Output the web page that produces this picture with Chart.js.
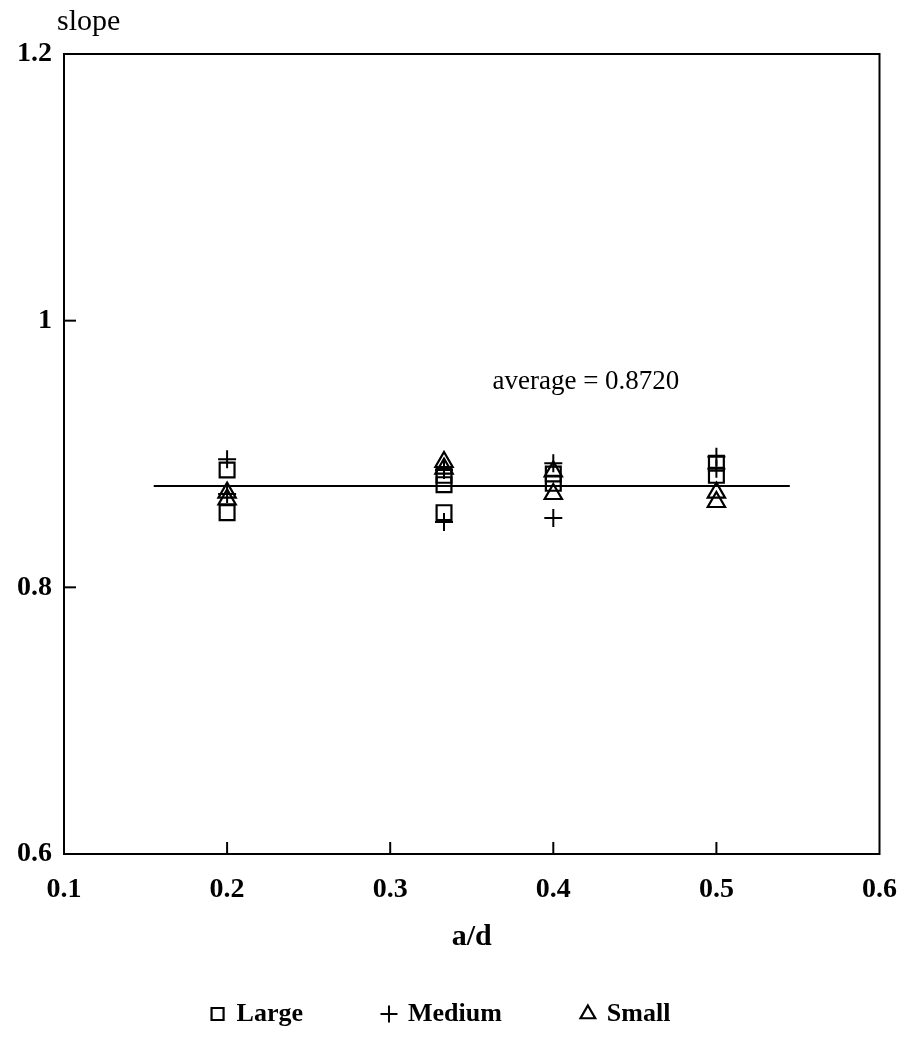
<!DOCTYPE html>
<html>
<head>
<meta charset="utf-8">
<script src="https://cdn.jsdelivr.net/npm/chart.js@4.4.0/dist/chart.umd.min.js"></script>
<style>
  html, body { margin: 0; padding: 0; background: #fff; }
  #wrap { width: 916px; height: 1061px; }
</style>
</head>
<body>
<div id="wrap"><canvas id="chart" width="916" height="1061"></canvas></div>
<script>
// a/d columns and slope readings per size group
const largeX  = [0.2, 0.2, 0.333, 0.333, 0.333, 0.4, 0.4, 0.5, 0.5];
const largeY  = [0.888, 0.856, 0.884, 0.877, 0.856, 0.885, 0.878, 0.893, 0.884];
const mediumX = [0.2, 0.2, 0.333, 0.333, 0.4, 0.4, 0.5, 0.5];
const mediumY = [0.896, 0.870, 0.888, 0.849, 0.893, 0.852, 0.898, 0.889];
const smallX  = [0.2, 0.2, 0.333, 0.333, 0.4, 0.4, 0.5, 0.5];
const smallY  = [0.871, 0.866, 0.894, 0.889, 0.887, 0.870, 0.871, 0.864];

// fitted average line
const avgValue = 0.876;
const avgLabel = 'average = 0.8720';
const avgSpan = [0.155, 0.545];

// axes
const xTicks = [0.1, 0.2, 0.3, 0.4, 0.5, 0.6];
const yTicks = [0.6, 0.8, 1.0, 1.2];
const xMarks = [0.2, 0.3, 0.4, 0.5];   // small inward tick marks on the frame
const yMarks = [0.8, 1.0];

const pts = (xs, ys) => xs.map((x, i) => ({ x: x, y: ys[i] }));

const serif = '"Liberation Serif", "DejaVu Serif", serif';

const framePlugin = {
    id: 'frame',
    afterDraw(chart) {
        const { ctx, chartArea: a, scales } = chart;
        ctx.save();
        ctx.strokeStyle = '#000';
        ctx.lineWidth = 2;
        ctx.strokeRect(a.left, a.top, a.right - a.left, a.bottom - a.top);

        // inward ticks
        xMarks.forEach(v => {
            const px = scales.x.getPixelForValue(v);
            ctx.beginPath();
            ctx.moveTo(px, a.bottom);
            ctx.lineTo(px, a.bottom - 12);
            ctx.stroke();
        });
        yMarks.forEach(v => {
            const py = scales.y.getPixelForValue(v);
            ctx.beginPath();
            ctx.moveTo(a.left, py);
            ctx.lineTo(a.left + 12, py);
            ctx.stroke();
        });

        // "slope" label and the average note
        ctx.fillStyle = '#000';
        ctx.font = '30px ' + serif;
        ctx.textAlign = 'left';
        ctx.textBaseline = 'middle';
        ctx.fillText('slope', 57, 22);

        ctx.font = '27px ' + serif;
        ctx.textAlign = 'center';
        ctx.fillText(avgLabel, scales.x.getPixelForValue(0.42), scales.y.getPixelForValue(0.954));
        ctx.restore();
    }
};

new Chart(document.getElementById('chart').getContext('2d'), {
    type: 'scatter',
    data: {
        datasets: [
            {
                label: 'Large',
                data: pts(largeX, largeY),
                pointStyle: 'rect',
                pointRadius: 10.5,
                borderColor: '#000',
                backgroundColor: 'rgba(0,0,0,0)',
                pointBorderWidth: 2.2
            },
            {
                label: 'Medium',
                data: pts(mediumX, mediumY),
                pointStyle: 'cross',
                pointRadius: 9,
                borderColor: '#000',
                backgroundColor: 'rgba(0,0,0,0)',
                pointBorderWidth: 2
            },
            {
                label: 'Small',
                data: pts(smallX, smallY),
                pointStyle: 'triangle',
                pointRadius: 10,
                borderColor: '#000',
                backgroundColor: 'rgba(0,0,0,0)',
                pointBorderWidth: 2.2
            },
            {
                label: 'average',
                type: 'line',
                data: avgSpan.map(x => ({ x: x, y: avgValue })),
                borderColor: '#000',
                borderWidth: 2,
                pointRadius: 0,
                fill: false
            }
        ]
    },
    options: {
        responsive: false,
        animation: false,
        layout: { padding: { top: 54, right: 34, left: 0, bottom: 24 } },
        scales: {
            x: {
                type: 'linear',
                min: 0.1,
                max: 0.6,
                afterBuildTicks: s => { s.ticks = xTicks.map(v => ({ value: v })); },
                afterFit: s => { s.height = 67; },
                grid: { display: false, drawTicks: false },
                border: { display: false },
                ticks: {
                    color: '#000',
                    padding: 19,
                    font: { family: serif, size: 28, weight: 'bold' }
                },
                title: {
                    display: true,
                    text: 'a/d',
                    color: '#000',
                    font: { family: serif, size: 30, weight: 'bold' },
                    padding: { top: 0, bottom: -34 }
                }
            },
            y: {
                type: 'linear',
                min: 0.6,
                max: 1.2,
                afterBuildTicks: s => { s.ticks = yTicks.map(v => ({ value: v })); },
                afterFit: s => { s.width = 64; },
                grid: { display: false, drawTicks: false },
                border: { display: false },
                ticks: {
                    color: '#000',
                    padding: 12,
                    font: { family: serif, size: 28, weight: 'bold' },
                    callback: v => String(Math.round(v * 10) / 10)
                }
            }
        },
        plugins: {
            tooltip: { enabled: false },
            legend: {
                position: 'bottom',
                labels: {
                    usePointStyle: true,
                    boxWidth: 12,
                    boxHeight: 12,
                    padding: 80,
                    color: '#000',
                    font: { family: serif, size: 26, weight: 'bold' },
                    filter: item => item.text !== 'average'
                }
            }
        }
    },
    plugins: [framePlugin]
});
</script>
</body>
</html>
